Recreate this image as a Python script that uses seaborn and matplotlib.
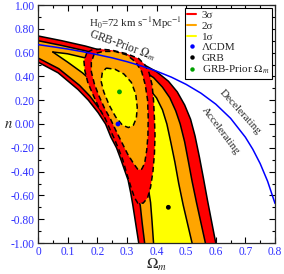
import matplotlib
matplotlib.use("Agg")
import matplotlib.pyplot as plt
from matplotlib.lines import Line2D
from matplotlib.ticker import MultipleLocator, FuncFormatter
import seaborn as sns
import pandas as pd

# q0 = 0 line (blue)
q0_om = [0.0, 0.05, 0.1, 0.15, 0.2, 0.25, 0.3, 0.35, 0.4, 0.45, 0.5, 0.55,
         0.6, 0.65, 0.7, 0.725, 0.75, 0.775, 0.8]
q0_n = [0.667, 0.649, 0.630, 0.608, 0.583, 0.556, 0.524, 0.487, 0.444, 0.394,
        0.333, 0.259, 0.167, 0.048, -0.111, -0.212, -0.333, -0.481, -0.667]

# GRB contours (solid): upper/right edge and lower/left edge
s3_up_x = [0.00, 0.08, 0.16, 0.24, 0.31, 0.36, 0.40, 0.44, 0.47, 0.495, 0.515, 0.53, 0.545, 0.558, 0.572, 0.586, 0.60]
s3_up_y = [0.74, 0.70, 0.655, 0.60, 0.545, 0.495, 0.44, 0.36, 0.27, 0.16, 0.04, -0.10, -0.28, -0.45, -0.64, -0.82, -1.0]
s3_lo_x = [0.00, 0.068, 0.135, 0.17, 0.203, 0.228, 0.246, 0.265, 0.28, 0.294, 0.304, 0.313, 0.32, 0.33, 0.34]
s3_lo_y = [0.52, 0.43, 0.29, 0.20, 0.095, 0.0, -0.11, -0.20, -0.30, -0.40, -0.47, -0.58, -0.68, -0.84, -1.0]

s2_up_x = [0.00, 0.08, 0.16, 0.24, 0.30, 0.35, 0.39, 0.42, 0.445, 0.465, 0.48, 0.495, 0.508, 0.52, 0.535, 0.55, 0.565]
s2_up_y = [0.70, 0.66, 0.615, 0.56, 0.51, 0.455, 0.39, 0.31, 0.22, 0.11, 0.0, -0.15, -0.32, -0.48, -0.66, -0.83, -1.0]
s2_lo_x = [0.00, 0.07, 0.14, 0.175, 0.21, 0.235, 0.255, 0.275, 0.29, 0.305, 0.318, 0.33, 0.345, 0.352, 0.36]
s2_lo_y = [0.555, 0.465, 0.325, 0.235, 0.12, 0.02, -0.09, -0.19, -0.29, -0.39, -0.48, -0.58, -0.68, -0.84, -1.0]

s1_up_x = [0.05, 0.10, 0.16, 0.22, 0.28, 0.33, 0.37, 0.40, 0.42, 0.435, 0.448, 0.462, 0.475, 0.49, 0.505, 0.52]
s1_up_y = [0.605, 0.59, 0.555, 0.51, 0.455, 0.39, 0.31, 0.22, 0.12, 0.0, -0.15, -0.32, -0.50, -0.68, -0.84, -1.0]
s1_lo_x = [0.05, 0.10, 0.15, 0.20, 0.25, 0.30, 0.335, 0.355, 0.37, 0.38, 0.385, 0.39]
s1_lo_y = [0.605, 0.52, 0.43, 0.32, 0.18, 0.02, -0.15, -0.32, -0.50, -0.66, -0.82, -1.0]

# GRB + prior on Omega_m contours (dashed), closed outlines
d3_x = [0.165, 0.155, 0.158, 0.168, 0.185, 0.205, 0.226, 0.242, 0.257, 0.272, 0.286, 0.30, 0.315, 0.326,
        0.337, 0.355, 0.37, 0.38, 0.388, 0.393, 0.395, 0.393, 0.39, 0.385, 0.375, 0.36, 0.34, 0.30, 0.25, 0.21, 0.18, 0.165]
d3_y = [0.60, 0.53, 0.45, 0.35, 0.25, 0.14, 0.05, -0.04, -0.12, -0.21, -0.30, -0.42, -0.54, -0.62,
        -0.665, -0.665, -0.62, -0.53, -0.40, -0.25, -0.10, 0.05, 0.20, 0.33, 0.43, 0.50, 0.55, 0.59, 0.62, 0.63, 0.62, 0.60]

d2_x = [0.19, 0.18, 0.18, 0.19, 0.205, 0.225, 0.245, 0.262, 0.282, 0.302, 0.322, 0.338, 0.35, 0.36,
        0.367, 0.371, 0.372, 0.37, 0.362, 0.35, 0.33, 0.30, 0.26, 0.22, 0.19]
d2_y = [0.59, 0.52, 0.44, 0.34, 0.24, 0.13, 0.04, -0.05, -0.15, -0.25, -0.33, -0.385, -0.38, -0.33,
        -0.22, -0.10, 0.05, 0.20, 0.33, 0.44, 0.52, 0.58, 0.61, 0.61, 0.59]

d1_x = [0.23, 0.26, 0.29, 0.315, 0.33, 0.335, 0.332, 0.322, 0.305, 0.285, 0.262, 0.24, 0.222, 0.213, 0.217, 0.23]
d1_y = [0.47, 0.46, 0.42, 0.35, 0.25, 0.14, 0.05, -0.01, -0.03, -0.01, 0.06, 0.16, 0.27, 0.36, 0.43, 0.47]

# best fit points
pt_names = ["ΛCDM", "GRB", r"GRB-Prior $\Omega_m$"]
pt_om = [0.27, 0.44, 0.275]
pt_n = [0.0, -0.70, 0.27]
pt_colors = ["#0000ff", "#000000", "#00a000"]

sig_names = ["3σ", "2σ", "1σ"]
sig_colors = ["#ff0000", "#ffa500", "#ffff00"]

sns.set_style("ticks")
plt.rcParams["font.family"] = ["Liberation Serif", "DejaVu Serif"]
plt.rcParams["mathtext.fontset"] = "stix"
plt.rcParams["axes.unicode_minus"] = False

fig = plt.figure(figsize=(2.84, 2.74), dpi=100)
ax = fig.add_axes([38 / 284, 1 - 243 / 274, 237 / 284, 238 / 274])

solid = [(s3_up_x, s3_up_y, s3_lo_x, s3_lo_y),
         (s2_up_x, s2_up_y, s2_lo_x, s2_lo_y),
         (s1_up_x, s1_up_y, s1_lo_x, s1_lo_y)]
for (ux, uy, lx, ly), col in zip(solid, sig_colors):
    ax.fill(ux + lx[::-1], uy + ly[::-1], color=col, lw=0, zorder=1)
for ux, uy, lx, ly in solid:
    ax.plot(ux, uy, color="k", lw=1.1, zorder=2)
    ax.plot(lx, ly, color="k", lw=1.1, zorder=2)

dashed = [(d3_x, d3_y), (d2_x, d2_y), (d1_x, d1_y)]
for (dx, dy), col in zip(dashed, sig_colors):
    ax.fill(dx, dy, color=col, lw=0, zorder=3)
    ax.plot(dx, dy, color="k", lw=1.1, ls=(0, (3.5, 2.2)), zorder=4)

sns.lineplot(x=q0_om, y=q0_n, color="#0000ff", lw=1.1, sort=False, ax=ax, zorder=5)

pts = pd.DataFrame({"om": pt_om, "n": pt_n, "name": pt_names})
sns.scatterplot(data=pts, x="om", y="n", hue="name", palette=pt_colors, s=12,
                edgecolor="none", legend=False, ax=ax, zorder=6)

ax.set_xlim(0, 0.8)
ax.set_ylim(-1, 1)
ax.xaxis.set_major_locator(MultipleLocator(0.1))
ax.xaxis.set_minor_locator(MultipleLocator(0.05))
ax.yaxis.set_major_locator(MultipleLocator(0.2))
ax.yaxis.set_minor_locator(MultipleLocator(0.1))
ax.xaxis.set_major_formatter(FuncFormatter(lambda v, p: "0" if abs(v) < 1e-9 else f"{v:.1f}"))
ax.yaxis.set_major_formatter(FuncFormatter(lambda v, p: f"{v:.2f}"))
ax.tick_params(which="both", direction="in", top=True, right=True, colors="k",
               labelcolor="#3030ff", labelsize=8.3, width=0.8)
ax.tick_params(which="major", length=4, pad=2.5)
ax.tick_params(which="minor", length=2.2)
for sp in ax.spines.values():
    sp.set_linewidth(0.9)

ax.set_xlabel(r"$\Omega_m$", fontsize=11, va="center")
ax.set_ylabel(r"$n$", fontsize=10.5, rotation=0, ha="center", va="center")
ax.xaxis.set_label_coords(0.5, -0.093)
ax.yaxis.set_label_coords(-0.125, 0.5)

ax.text(0.327, 0.85, r"H$_0$=72 km s$^{-1}$Mpc$^{-1}$", fontsize=7.8, ha="center", va="center")
ax.text(0.285, 0.66, r"GRB-Prior $\Omega_m$", fontsize=8.3, ha="center", va="center", rotation=-20)
ax.text(0.682, 0.10, "Decelerating", fontsize=8, ha="center", va="center", rotation=-48)
ax.text(0.615, -0.06, "Accelerating", fontsize=8, ha="center", va="center", rotation=-53)

handles = [Line2D([], [], color=c, lw=1.5) for c in sig_colors]
handles += [Line2D([], [], color=c, ls="none", marker="o", ms=3.2, mec="none") for c in pt_colors]
leg = ax.legend(handles, sig_names + pt_names, loc="upper right", fontsize=8,
                frameon=True, fancybox=False, edgecolor="k", framealpha=1,
                handlelength=0.8, handletextpad=0.5, labelspacing=0.08,
                borderpad=0.25, borderaxespad=0.25)
leg.get_frame().set_linewidth(0.8)
leg.set_zorder(10)

fig.savefig("out.png", dpi=100)
